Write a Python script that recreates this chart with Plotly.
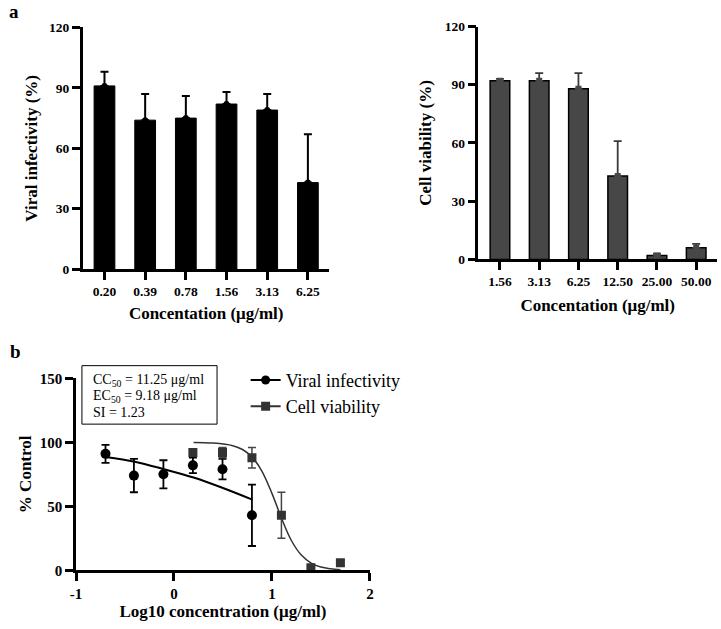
import numpy as np
import plotly.graph_objects as go

# ---------------- data ----------------
vi_conc_labels = ["0.20", "0.39", "0.78", "1.56", "3.13", "6.25"]
vi_conc = [0.20, 0.39, 0.78, 1.56, 3.13, 6.25]
vi_mean = [91, 74, 75, 82, 79, 43]
vi_err = [7, 13, 11, 6, 8, 24]

cv_conc_labels = ["1.56", "3.13", "6.25", "12.50", "25.00", "50.00"]
cv_conc = [1.56, 3.13, 6.25, 12.50, 25.00, 50.00]
cv_mean = [92, 92, 88, 43, 2, 6]
cv_err = [1, 4, 8, 18, 1, 2]

# fitted curves (log10 conc, % control)
vi_fit_x = [-0.70, -0.40, -0.10, 0.20, 0.50, 0.80]
vi_fit_y = [88.6, 84.9, 79.0, 72.5, 64.3, 55.2]
cv_fit_x = [0.20, 0.40, 0.60, 0.70, 0.80, 0.90, 1.00, 1.10, 1.20, 1.30, 1.40, 1.50, 1.60, 1.70]
cv_fit_y = [99.9, 99.4, 97.4, 94.4, 88.3, 77.2, 60.1, 40.3, 23.1, 11.9, 5.7, 2.6, 1.2, 0.5]

y_ticks_top = [0, 30, 60, 90, 120]
y_ticks_bottom = [0, 50, 100, 150]
x_ticks_bottom = [-1, 0, 1, 2]

box_lines = ["CC<sub>50</sub> = 11.25 μg/ml", "EC<sub>50</sub> = 9.18 μg/ml", "SI = 1.23"]

W, H = 721, 629
def px(x):
    return x / W
def py(y):
    return 1 - y / H

SERIF = "Liberation Serif, Times New Roman, serif"
tick_top = dict(family=SERIF, size=13.5, color="black", weight="bold")
tick_bot = dict(family=SERIF, size=15, color="black", weight="bold")
title_font = dict(family=SERIF, size=17, color="black", weight="bold")

fig = go.Figure()

# ---- panel a, left ----
fig.add_trace(go.Bar(x=vi_conc_labels, y=vi_mean, width=0.51,
                     marker=dict(color="black", line=dict(color="black", width=1)),
                     xaxis="x", yaxis="y", showlegend=False))
fig.add_trace(go.Scatter(x=vi_conc_labels, y=vi_mean, mode="markers",
                         marker=dict(color="black", size=6, symbol="circle"),
                         error_y=dict(type="data", array=vi_err, arrayminus=[0] * 6, symmetric=False,
                                      color="black", thickness=2, width=4),
                         xaxis="x", yaxis="y", showlegend=False))

# ---- panel a, right ----
fig.add_trace(go.Bar(x=cv_conc_labels, y=cv_mean, width=0.5,
                     marker=dict(color="#474747", line=dict(color="black", width=1.5)),
                     xaxis="x2", yaxis="y2", showlegend=False))
fig.add_trace(go.Scatter(x=cv_conc_labels, y=cv_mean, mode="markers",
                         marker=dict(color="#474747", size=6, symbol="square"),
                         error_y=dict(type="data", array=cv_err, arrayminus=[0] * 6, symmetric=False,
                                      color="#3a3a3a", thickness=1.8, width=4),
                         xaxis="x2", yaxis="y2", showlegend=False))

# ---- panel b ----
vi_log = np.log10(vi_conc)
cv_log = np.log10(cv_conc)
fig.add_trace(go.Scatter(x=vi_fit_x, y=vi_fit_y, mode="lines", line=dict(color="black", width=2, shape="spline"),
                         xaxis="x3", yaxis="y3", showlegend=False))
fig.add_trace(go.Scatter(x=cv_fit_x, y=cv_fit_y, mode="lines", line=dict(color="#333333", width=1.5, shape="spline"),
                         xaxis="x3", yaxis="y3", showlegend=False))
fig.add_trace(go.Scatter(x=vi_log, y=vi_mean, mode="markers",
                         marker=dict(color="black", size=10, symbol="circle"),
                         error_y=dict(type="data", array=vi_err, color="black", thickness=1.8, width=4),
                         xaxis="x3", yaxis="y3", showlegend=False))
fig.add_trace(go.Scatter(x=cv_log, y=cv_mean, mode="markers",
                         marker=dict(color="#333333", size=9, symbol="square"),
                         error_y=dict(type="data", array=cv_err, color="#444444", thickness=1.5, width=4),
                         xaxis="x3", yaxis="y3", showlegend=False))
# legend entries
fig.add_trace(go.Scatter(x=[None], y=[None], mode="lines+markers", name="Viral infectivity",
                         line=dict(color="black", width=2), marker=dict(color="black", size=9, symbol="circle"),
                         xaxis="x3", yaxis="y3"))
fig.add_trace(go.Scatter(x=[None], y=[None], mode="lines+markers", name="Cell viability",
                         line=dict(color="#333333", width=2), marker=dict(color="#333333", size=9, symbol="square"),
                         xaxis="x3", yaxis="y3"))

axis_common = dict(showline=True, linecolor="black", ticks="outside", tickcolor="black",
                   showgrid=False, zeroline=False)

annotations = [
    dict(text="a", x=px(1), y=py(4), xref="paper", yref="paper", xanchor="left", yanchor="middle",
         showarrow=False, font=dict(family=SERIF, size=19, color="black", weight="bold")),
    dict(text="b", x=px(2), y=py(352), xref="paper", yref="paper", xanchor="left", yanchor="middle",
         showarrow=False, font=dict(family=SERIF, size=19, color="black", weight="bold")),
]
for i, t in enumerate(box_lines):
    annotations.append(dict(text=t, x=px(86), y=py(382 + 16.5 * i), xref="paper", yref="paper",
                            xanchor="left", yanchor="middle", showarrow=False,
                            font=dict(family=SERIF, size=14, color="black")))

fig.update_layout(
    width=W, height=H,
    margin=dict(l=0, r=0, t=0, b=0),
    paper_bgcolor="white", plot_bgcolor="white",
    font=dict(family=SERIF, color="black"),
    xaxis=dict(domain=[px(78), px(328)], anchor="y", type="category", range=[-0.53, 5.53],
               linewidth=3, tickwidth=3, ticklen=8, tickfont=tick_top, **axis_common,
               title=dict(text="Concentation (μg/ml)", standoff=9, font=title_font)),
    yaxis=dict(domain=[py(268), py(20)], anchor="x", range=[0, 120], tickvals=y_ticks_top,
               linewidth=3, tickwidth=3, ticklen=8, tickfont=tick_top, **axis_common,
               title=dict(text="Viral infectivity (%)", standoff=8, font=title_font)),
    xaxis2=dict(domain=[px(479), 1.0], anchor="y2", type="category", range=[-0.55, 5.53],
                linewidth=2.5, tickwidth=2.5, ticklen=8, tickfont=tick_top, **axis_common,
                title=dict(text="Concentation (μg/ml)", standoff=11, font=title_font)),
    yaxis2=dict(domain=[py(258), py(19)], anchor="x2", range=[0, 120], tickvals=y_ticks_top,
                linewidth=2.5, tickwidth=2.5, ticklen=8, tickfont=tick_top, **axis_common,
                title=dict(text="Cell viability (%)", standoff=9, font=title_font)),
    xaxis3=dict(domain=[px(71), px(369)], anchor="y3", range=[-1, 2], tickvals=x_ticks_bottom,
                ticktext=["-1", "0", "1", "2"],
                linewidth=2.5, tickwidth=2.5, ticklen=8, tickfont=tick_bot, **axis_common,
                title=dict(text="Log10 concentration (μg/ml)", standoff=5, font=title_font)),
    yaxis3=dict(domain=[py(577), py(380)], anchor="x3", range=[0, 150], tickvals=y_ticks_bottom,
                linewidth=2.5, tickwidth=2.5, ticklen=8, tickfont=tick_bot, **axis_common,
                title=dict(text="% Control", standoff=4, font=title_font)),
    legend=dict(x=px(243), y=py(363), xanchor="left", yanchor="top",
                font=dict(family=SERIF, size=18, color="black"),
                bgcolor="rgba(0,0,0,0)", tracegroupgap=0, itemwidth=30),
    shapes=[dict(type="rect", xref="paper", yref="paper",
                 x0=px(77), x1=px(214), y0=py(427), y1=py(367),
                 line=dict(color="black", width=1), fillcolor="rgba(0,0,0,0)")],
    annotations=annotations,
)

fig.write_html("out.html", config={"displayModeBar": False},
               post_script="document.body.style.margin='0';document.body.style.overflow='hidden';")
